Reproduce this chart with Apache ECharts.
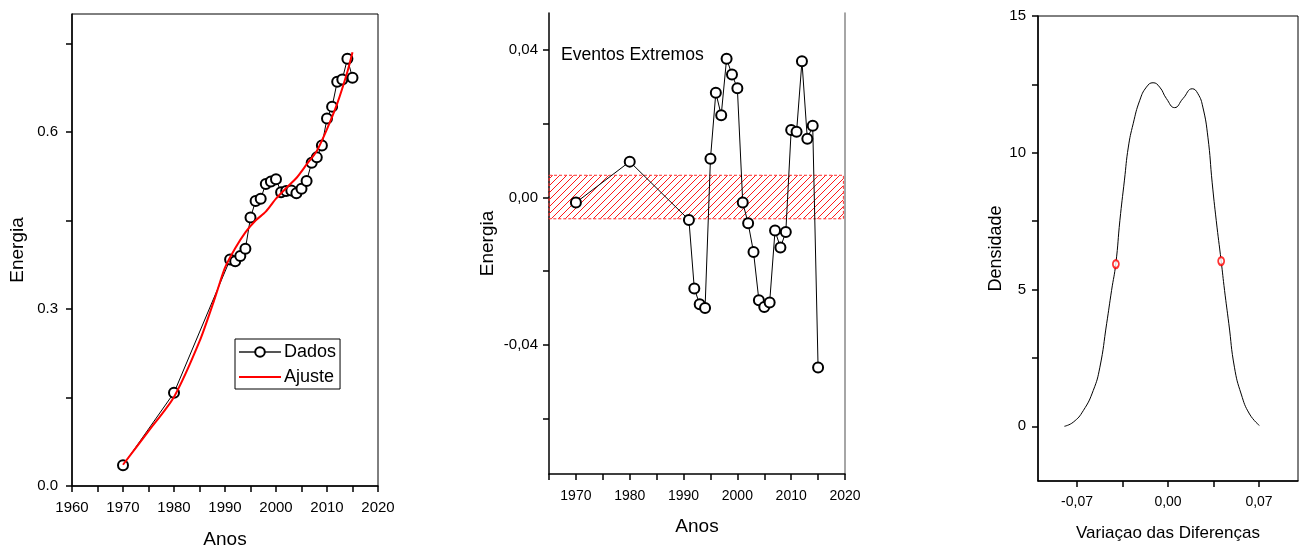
<!DOCTYPE html>
<html><head><meta charset="utf-8">
<script src="https://cdn.jsdelivr.net/npm/echarts@6/dist/echarts.min.js"></script>
<style>html,body{margin:0;padding:0;background:#fff}#c{width:1303px;height:550px}</style>
</head><body><div id="c"></div>
<script>
// ---- Painel 1: Energia x Anos ----
const anosDados = [1970,1980,1991,1992,1993,1994,1995,1996,1997,1998,1999,2000,2001,2002,2003,2004,2005,2006,2007,2008,2009,2010,2011,2012,2013,2014,2015];
const energiaDados = [0.035,0.158,0.384,0.381,0.390,0.402,0.455,0.483,0.487,0.512,0.516,0.520,0.498,0.500,0.501,0.496,0.504,0.517,0.548,0.557,0.577,0.623,0.643,0.685,0.689,0.724,0.692];
const anosAjuste = [1970,1975,1980,1985,1988,1990,1992,1994,1996,1998,2000,2002,2004,2006,2008,2010,2012,2014,2015];
const energiaAjuste = [0.036,0.093,0.151,0.245,0.318,0.370,0.403,0.430,0.450,0.465,0.487,0.505,0.522,0.545,0.568,0.605,0.648,0.702,0.735];
const ticksAnos1 = [1960,1965,1970,1975,1980,1985,1990,1995,2000,2005,2010,2015,2020];
const rotulosAnos1 = [1960,1970,1980,1990,2000,2010,2020];
const ticksEnergia1 = [0,0.15,0.3,0.45,0.6,0.75];
const rotulosEnergia1 = [0,0.3,0.6];

// ---- Painel 2: Eventos Extremos ----
const anosEventos = [1970,1980,1991,1992,1993,1994,1995,1996,1997,1998,1999,2000,2001,2002,2003,2004,2005,2006,2007,2008,2009,2010,2011,2012,2013,2014,2015];
const energiaEventos = [-0.0014,0.0097,-0.0061,-0.0247,-0.0290,-0.0300,0.0105,0.0284,0.0223,0.0376,0.0333,0.0296,-0.0014,-0.0070,-0.0148,-0.0279,-0.0297,-0.0285,-0.0090,-0.0136,-0.0094,0.0183,0.0178,0.0369,0.0159,0.0194,-0.0461];
const faixaEnergia = [-0.0058, 0.0060];
const faixaAnos = [1965, 2019.7];
const ticksAnos2 = [1965,1970,1975,1980,1985,1990,1995,2000,2005,2010,2015,2020];
const rotulosAnos2 = [1970,1980,1990,2000,2010,2020];
const ticksEnergia2 = [-0.06,-0.04,-0.02,0,0.02,0.04];
const rotulosEnergia2 = [-0.04,0,0.04];

// ---- Painel 3: Densidade ----
const difX = [-0.0797,-0.0729,-0.0652,-0.0575,-0.0524,-0.0472,-0.0434,-0.0401,-0.0370,-0.0335,-0.0305,-0.0268,-0.0217,-0.0166,-0.0115,-0.0064,-0.0012,0.0051,0.0115,0.0187,0.0230,0.0268,0.0307,0.0340,0.0371,0.0409,0.0435,0.0468,0.0511,0.0563,0.0627,0.0703];
const densY = [0,0.15,0.57,1.31,2.16,3.75,4.97,5.96,7.53,9.0,10.21,11.06,11.92,12.40,12.56,12.40,11.98,11.65,11.98,12.34,12.16,11.67,10.57,8.9,7.53,6.04,4.97,3.75,2.16,1.18,0.45,0.03];
const marcX = [-0.0401, 0.0409];
const marcY = [5.93, 6.04];
const ticksDif = [-0.07,-0.035,0,0.035,0.07];
const rotulosDif = [-0.07,0,0.07];
const ticksDens = [0,2.5,5,7.5,10,12.5,15];
const rotulosDens = [0,5,10,15];

const F = '"Liberation Sans", Arial, sans-serif';

function zip(a,b){return a.map((v,i)=>[v,b[i]]);}

// hatch pattern
const pat = document.createElement('canvas');
pat.width = 7; pat.height = 7;
(function(){
  const g = pat.getContext('2d');
  g.strokeStyle = 'rgba(255,0,0,0.9)';
  g.lineWidth = 1;
  g.beginPath();
  g.moveTo(-1,8); g.lineTo(8,-1);
  g.moveTo(-1,1); g.lineTo(1,-1);
  g.moveTo(6,8); g.lineTo(8,6);
  g.stroke();
})();

function xAx(o){
  return Object.assign({
    type:'value',
    axisLine:{show:true,onZero:false,lineStyle:{color:'#000',width:1.5}},
    axisTick:{show:true,inside:false,length:6,customValues:o.ticks,lineStyle:{color:'#000',width:1.5}},
    axisLabel:{customValues:o.labels,color:'#000',fontSize:o.fs||15,fontFamily:F,margin:o.margin||14,formatter:o.fmt},
    splitLine:{show:false},
    nameLocation:'middle',
    nameTextStyle:{color:'#000',fontSize:o.nfs||19,fontFamily:F}
  }, o.extra);
}

const chart = echarts.init(document.getElementById('c'), null, {renderer:'canvas'});
chart.setOption({
  animation:false,
  backgroundColor:'#fff',
  grid:[
    {left:72, top:14, width:306, height:472, outerBoundsMode:'none', containLabel:false, show:true, borderColor:'#000', borderWidth:1, backgroundColor:'transparent'},
    {left:549, top:13, width:296, height:461, outerBoundsMode:'none', containLabel:false, show:false},
    {left:1038, top:16, width:260, height:465, outerBoundsMode:'none', containLabel:false, show:true, borderColor:'#000', borderWidth:1, backgroundColor:'transparent'}
  ],
  legend:{
    data:[{name:'Dados', lineStyle:{color:'#555'}},{name:'Ajuste', itemStyle:{opacity:0}}],
    orient:'vertical', left:235, top:339,
    itemWidth:42, itemHeight:12, itemGap:7,
    padding:[4,4,3,3],
    borderColor:'#000', borderWidth:1, backgroundColor:'#fff',
    textStyle:{color:'#000',fontSize:18,fontFamily:F,padding:[0,0,0,-2]}
  },
  graphic:[
    {type:'text', left:561, top:46, style:{text:'Eventos Extremos', fill:'#000', font:'17.6px "Liberation Sans", Arial, sans-serif'}}
  ],
  xAxis:[
    xAx({ticks:ticksAnos1, labels:rotulosAnos1, fmt:v=>String(v), extra:{gridIndex:0,min:1960,max:2020,name:'Anos',nameGap:44}}),
    xAx({ticks:ticksAnos2, labels:rotulosAnos2, fs:14, margin:15, fmt:v=>String(v), extra:{gridIndex:1,min:1965,max:2020,name:'Anos',nameGap:43}}),
    xAx({ticks:ticksDif, labels:rotulosDif, fs:14, margin:14, nfs:17, fmt:v=>Math.abs(v)<1e-9?'0,00':v.toFixed(2).replace('.',','), extra:{gridIndex:2,min:-0.1,max:0.1,name:'Variaçao das Diferenças',nameGap:44}})
  ],
  yAxis:[
    xAx({ticks:ticksEnergia1, labels:rotulosEnergia1, fs:15, margin:14, fmt:v=>v.toFixed(1), extra:{gridIndex:0,min:0,max:0.8,name:'Energia',nameGap:45}}),
    xAx({ticks:ticksEnergia2, labels:rotulosEnergia2, fs:15, margin:11, fmt:v=>Math.abs(v)<1e-9?'0,00':v.toFixed(2).replace('.',','), extra:{gridIndex:1,min:-0.075,max:0.05,name:'Energia',nameGap:52}}),
    xAx({ticks:ticksDens, labels:rotulosDens, fs:15, margin:12, nfs:18, fmt:v=>String(v), extra:{gridIndex:2,min:-2,max:15,name:'Densidade',nameGap:33}}),
    {type:'value', gridIndex:1, position:'right', min:-0.075, max:0.05,
     axisLine:{show:true,lineStyle:{color:'#888',width:1.5}}, axisTick:{show:false}, axisLabel:{show:false}, splitLine:{show:false}}
  ],
  series:[
    {name:'Dados', type:'line', xAxisIndex:0, yAxisIndex:0, data:zip(anosDados,energiaDados),
     symbol:'emptyCircle', symbolSize:10, showAllSymbol:true,
     lineStyle:{color:'#000',width:1}, itemStyle:{color:'#000',borderWidth:1}, z:2},
    {name:'Ajuste', type:'line', xAxisIndex:0, yAxisIndex:0, data:zip(anosAjuste,energiaAjuste),
     symbol:'none', smooth:0.25, lineStyle:{color:'#ff0000',width:2}, itemStyle:{color:'#ff0000'}, z:3},
    {name:'Eventos', type:'line', xAxisIndex:1, yAxisIndex:1, data:zip(anosEventos,energiaEventos),
     symbol:'emptyCircle', symbolSize:10, showAllSymbol:true,
     lineStyle:{color:'#000',width:1}, itemStyle:{color:'#000',borderWidth:1}, z:3,
     markArea:{silent:true, z:1,
       itemStyle:{color:{image:pat, repeat:'repeat'}, borderColor:'#ff3030', borderWidth:1, borderType:[3,2]},
       data:[[{coord:[faixaAnos[0],faixaEnergia[1]]},{coord:[faixaAnos[1],faixaEnergia[0]]}]]}},
    {name:'Densidade', type:'line', xAxisIndex:2, yAxisIndex:2, data:zip(difX,densY),
     symbol:'none', smooth:0.5, lineStyle:{color:'#000',width:1}},
    {name:'Marcadores', type:'scatter', xAxisIndex:2, yAxisIndex:2, data:zip(marcX,marcY),
     symbol:'emptyCircle', symbolSize:[6,8], itemStyle:{color:'#ff0000',borderColor:'#ff0000',borderWidth:1.2}, z:4}
  ]
});
</script>
</body></html>
